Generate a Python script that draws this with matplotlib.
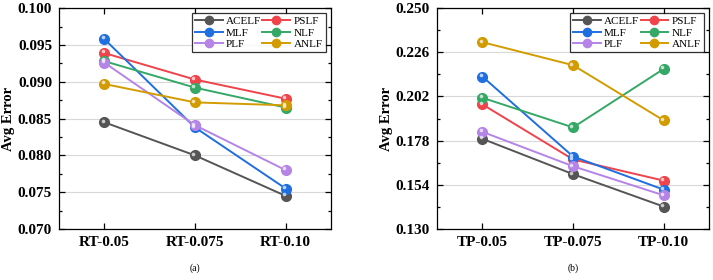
import matplotlib
matplotlib.use("Agg")
import matplotlib.pyplot as plt
from matplotlib.ticker import AutoMinorLocator
from matplotlib.transforms import offset_copy

plt.rcParams["font.family"] = ["Liberation Serif", "DejaVu Serif"]

METHODS = ["ACELF", "PSLF", "MLF", "NLF", "PLF", "ANLF"]
COLORS = {
    "ACELF": "#555555",
    "PSLF": "#f0434a",
    "MLF": "#1f6fe0",
    "NLF": "#35a866",
    "PLF": "#b484e6",
    "ANLF": "#d29c00",
}

rt_labels = ["RT-0.05", "RT-0.075", "RT-0.10"]
rt_acelf = [0.0845, 0.0800, 0.0745]
rt_pslf = [0.0939, 0.0903, 0.0877]
rt_mlf = [0.0958, 0.0838, 0.0755]
rt_nlf = [0.0928, 0.0892, 0.0865]
rt_plf = [0.0926, 0.0841, 0.0780]
rt_anlf = [0.0897, 0.0872, 0.0868]

tp_labels = ["TP-0.05", "TP-0.075", "TP-0.10"]
tp_acelf = [0.1790, 0.1598, 0.1422]
tp_pslf = [0.1977, 0.1678, 0.1563]
tp_mlf = [0.2128, 0.1694, 0.1514]
tp_nlf = [0.2013, 0.1852, 0.2170]
tp_plf = [0.1828, 0.1641, 0.1483]
tp_anlf = [0.2315, 0.2190, 0.1890]

rt_ticks = [0.070, 0.075, 0.080, 0.085, 0.090, 0.095, 0.100]
tp_ticks = [0.130, 0.154, 0.178, 0.202, 0.226, 0.250]


def _panel(fig, rect, labels, series, yticks, caption):
    ax = fig.add_axes(rect)
    x = list(range(len(labels)))
    for name in METHODS:
        vals = series[name]
        ax.plot(x, vals, color=COLORS[name], lw=1.4, marker="o", ms=7,
                mec=COLORS[name], mfc=COLORS[name], label=name, zorder=3)
        # small glossy highlight on each ball
        shine = offset_copy(ax.transData, fig=fig, x=-1.2, y=1.2, units="points")
        ax.plot(x, vals, ls="none", marker="o", ms=2.6, mfc="white", mec="none",
                alpha=0.7, transform=shine, zorder=4)

    ax.set_xlim(-0.5, len(labels) - 0.5)
    ax.set_ylim(yticks[0], yticks[-1])
    ax.set_xticks(x)
    ax.set_xticklabels(labels)
    ax.set_yticks(yticks)
    ax.set_yticklabels([f"{t:.3f}" for t in yticks])
    ax.yaxis.set_minor_locator(AutoMinorLocator(2))
    ax.grid(axis="y", color="#d8d8d8", lw=0.8, zorder=0)

    ax.tick_params(axis="both", which="both", direction="in",
                   top=True, right=True, width=0.9)
    ax.tick_params(axis="both", which="major", length=4, labelsize=11, pad=5)
    ax.tick_params(axis="y", which="minor", length=2.5)
    for lab in ax.get_xticklabels() + ax.get_yticklabels():
        lab.set_fontweight("bold")
    for sp in ax.spines.values():
        sp.set_linewidth(0.9)

    ax.set_ylabel("Avg Error", fontsize=10.5, fontweight="bold", labelpad=2)

    handles, names = ax.get_legend_handles_labels()
    order = [0, 2, 4, 1, 3, 5]
    leg = ax.legend([handles[i] for i in order], [names[i] for i in order],
                    ncol=2, loc="upper right", fontsize=8, frameon=True,
                    fancybox=False, edgecolor="black", handlelength=2.5,
                    handletextpad=0.3, columnspacing=0.1, labelspacing=0.15,
                    borderpad=0.3, borderaxespad=0.45, markerscale=0.85)
    leg.get_frame().set_linewidth(0.9)

    ax.text(0.5, -0.178, caption, transform=ax.transAxes, ha="center",
            va="center", fontsize=7)
    return ax


fig = plt.figure(figsize=(7.13, 2.80), dpi=100)

rt_series = {"ACELF": rt_acelf, "PSLF": rt_pslf, "MLF": rt_mlf,
             "NLF": rt_nlf, "PLF": rt_plf, "ANLF": rt_anlf}
tp_series = {"ACELF": tp_acelf, "PSLF": tp_pslf, "MLF": tp_mlf,
             "NLF": tp_nlf, "PLF": tp_plf, "ANLF": tp_anlf}

_panel(fig, [0.0827, 0.182, 0.3815, 0.789], rt_labels, rt_series, rt_ticks, "(a)")
_panel(fig, [0.613, 0.182, 0.3815, 0.789], tp_labels, tp_series, tp_ticks, "(b)")

fig.savefig("out.png", dpi=100)
